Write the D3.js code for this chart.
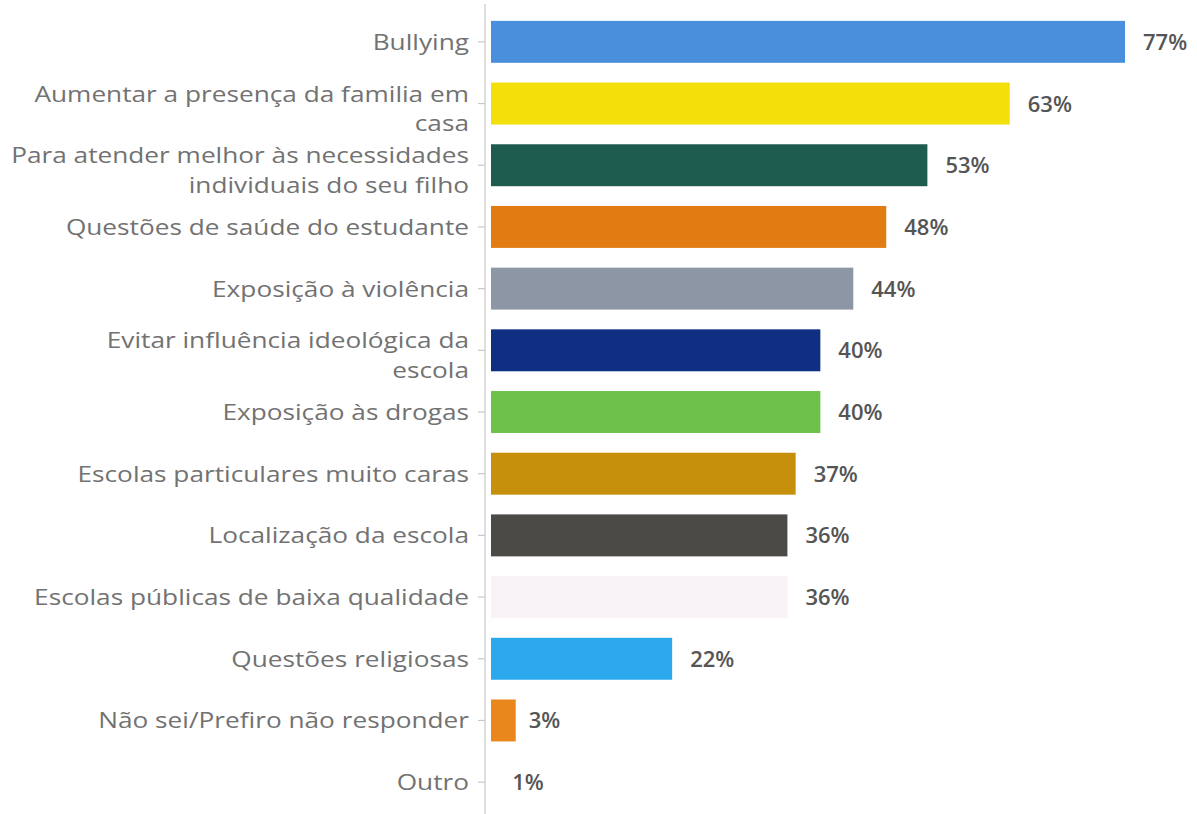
<!DOCTYPE html>
<html><head><meta charset="utf-8">
<script src="https://cdn.jsdelivr.net/npm/d3@7"></script>
<style>body{margin:0;background:#fff}svg{display:block}</style>
</head><body>
<svg id="c" width="1197" height="814"></svg>
<script>
const categories = [
  ["Bullying"],
  ["Aumentar a presença da familia em","casa"],
  ["Para atender melhor às necessidades","individuais do seu filho"],
  ["Questões de saúde do estudante"],
  ["Exposição à violência"],
  ["Evitar influência ideológica da","escola"],
  ["Exposição às drogas"],
  ["Escolas particulares muito caras"],
  ["Localização da escola"],
  ["Escolas públicas de baixa qualidade"],
  ["Questões religiosas"],
  ["Não sei/Prefiro não responder"],
  ["Outro"]
];
const values = [77,63,53,48,44,40,40,37,36,36,22,3,1];
const colors = ["#4a8fdc","#f3df0a","#1f5c50","#e27b12","#8d96a4","#0e2f82","#6dc24c","#c68f0c","#4b4a46","#f9f2f7","#2ba8ee","#e9861c","#ffffff"];

const svg = d3.select("#c");
const x0 = 491;
const x = d3.scaleLinear().domain([0,77]).range([x0,1125]);
const ids = d3.range(categories.length);
const y = d3.scaleBand().domain(ids).range([11,813]).paddingInner(0.32).paddingOuter(0.16);

svg.selectAll("rect.bar").data(values).join("rect")
  .attr("x", x(0)).attr("y",(d,i)=>y(i))
  .attr("width",d=>x(d)-x(0)).attr("height",y.bandwidth())
  .attr("fill",(d,i)=>colors[i]);

// axis
const axisG = svg.append("g").attr("transform",`translate(485,0)`);
axisG.append("line").attr("x1",0).attr("x2",0).attr("y1",4).attr("y2",814).attr("stroke","#c8c8c8").attr("stroke-width",1.2);
axisG.selectAll("line.t").data(ids).join("line").attr("class","t")
  .attr("x1",-7).attr("x2",0).attr("y1",i=>y(i)+y.bandwidth()/2).attr("y2",i=>y(i)+y.bandwidth()/2)
  .attr("stroke","#c8c8c8").attr("stroke-width",1.2);

const lh = 29.5, sx = 1.22;
svg.selectAll("g.cat").data(categories).join("g").attr("class","cat")
  .attr("transform",(d,i)=>`translate(469,${y(i)+y.bandwidth()/2}) scale(${sx},1)`)
  .each(function(lines){
    const g = d3.select(this);
    const start = lines.length>1 ? -2 : 8;
    lines.forEach((l,k)=>g.append("text").attr("x",0).attr("y",start+k*lh)
      .attr("text-anchor","end")
      .attr("font-family","Open Sans, sans-serif").attr("font-size",21.5).attr("fill","#727272")
      .text(l));
  });

svg.selectAll("text.val").data(values).join("text").attr("class","val")
  .attr("x",d=>x(d)+(d<5?13:18)).attr("y",(d,i)=>y(i)+y.bandwidth()/2+8)
  .attr("font-family","Open Sans, sans-serif").attr("font-size",22).attr("font-weight",600).attr("fill","#555")
  .text(d=>d+"%");
</script>
</body></html>
